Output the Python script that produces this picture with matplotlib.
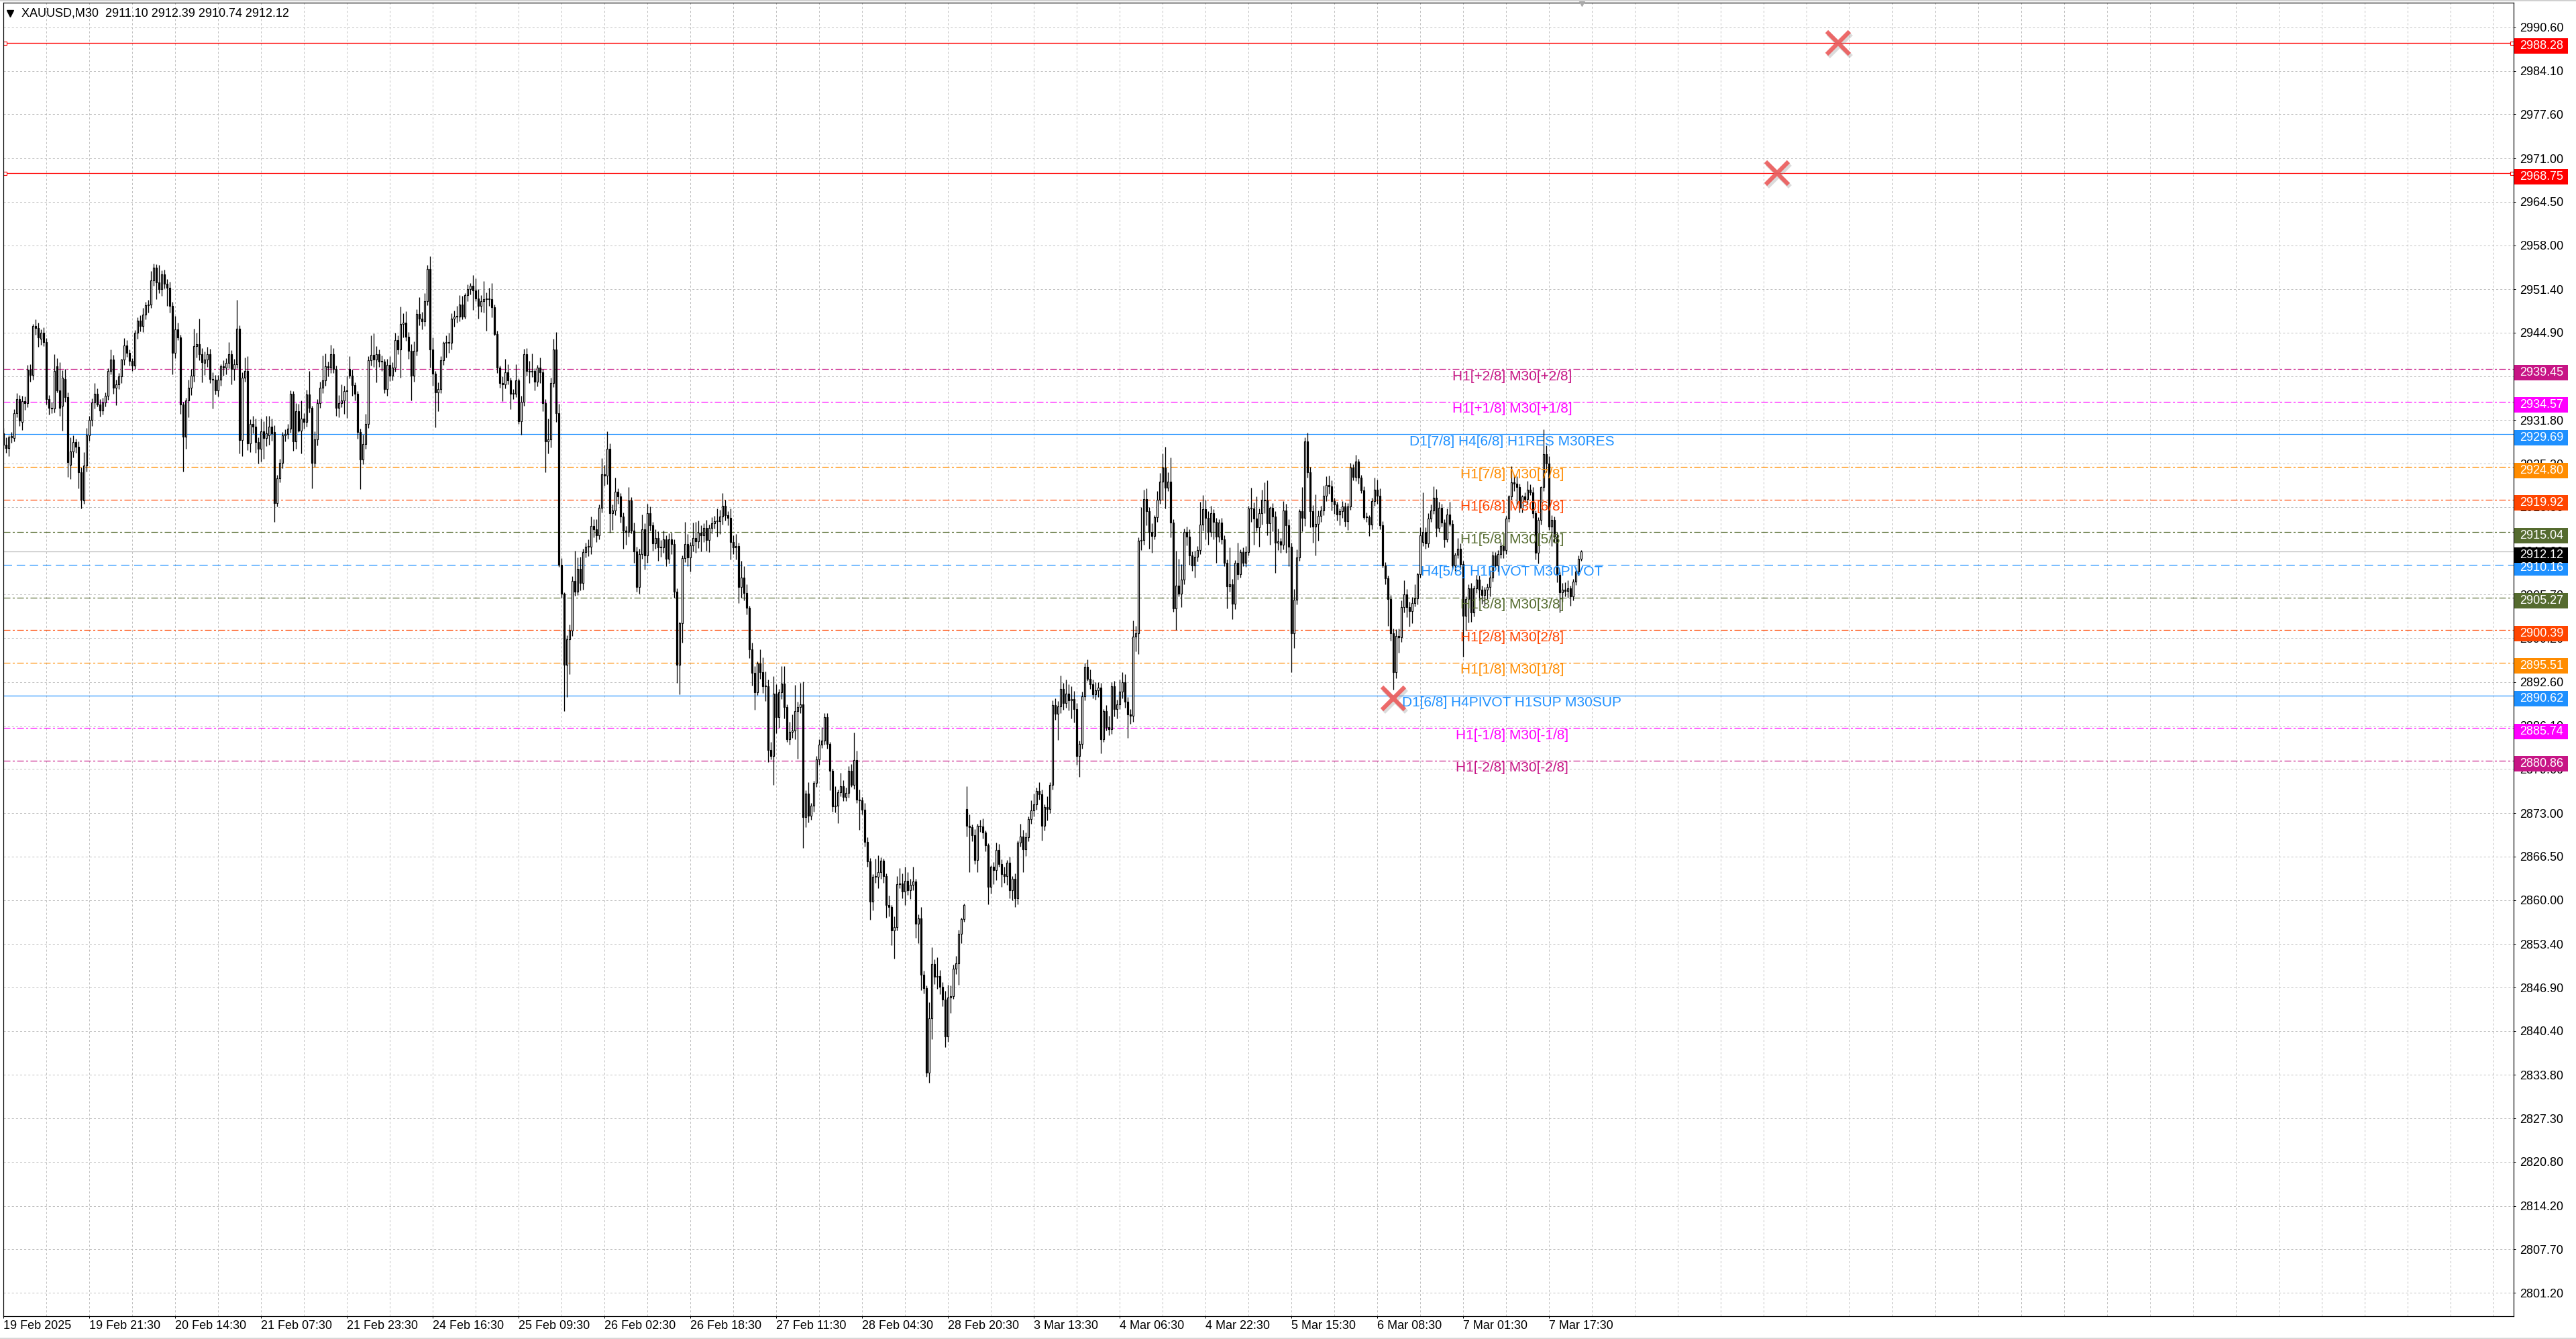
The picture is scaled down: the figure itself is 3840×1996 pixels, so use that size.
import numpy as np
import matplotlib
matplotlib.use('Agg')
import matplotlib.pyplot as plt
from matplotlib.lines import Line2D
from matplotlib.patches import Rectangle
from matplotlib.transforms import blended_transform_factory

# XAUUSD M30 bars (bar 0 = 19 Feb 2025)
opens = [
    2929.8, 2928.1, 2927.6, 2929.2, 2929.1, 2932.8, 2935.0, 2931.5, 2934.7, 2934.4,
    2939.4, 2938.6, 2945.9, 2945.6, 2944.0, 2944.9, 2943.5, 2935.0, 2933.7, 2933.6,
    2939.9, 2936.3, 2934.0, 2938.0, 2935.3, 2925.1, 2927.1, 2928.5, 2927.8, 2924.0,
    2919.8, 2925.0, 2929.5, 2931.8, 2934.5, 2935.8, 2934.2, 2933.3, 2934.5, 2935.5,
    2939.2, 2940.9, 2936.7, 2937.2, 2938.4, 2940.9, 2943.0, 2941.9, 2940.7, 2940.0,
    2944.9, 2946.7, 2945.9, 2947.6, 2949.0, 2949.1, 2952.7, 2954.6, 2952.4, 2951.4,
    2953.6, 2952.2, 2951.6, 2948.9, 2941.9, 2945.4, 2944.2, 2934.2, 2929.3, 2934.8,
    2936.7, 2938.5, 2942.9, 2943.2, 2941.7, 2940.4, 2940.9, 2941.7, 2938.0, 2937.9,
    2936.3, 2937.9, 2939.9, 2939.7, 2940.4, 2941.7, 2939.5, 2940.2, 2945.5, 2928.8,
    2938.2, 2939.2, 2928.3, 2931.2, 2930.8, 2928.5, 2927.5, 2930.1, 2929.1, 2929.5,
    2930.8, 2930.0, 2919.4, 2923.1, 2925.4, 2929.5, 2929.7, 2930.5, 2935.8, 2928.6,
    2933.2, 2930.2, 2932.0, 2931.5, 2935.7, 2933.7, 2925.4, 2928.9, 2934.4, 2936.7,
    2937.8, 2939.9, 2939.7, 2941.7, 2939.5, 2933.7, 2934.4, 2934.8, 2936.2, 2939.5,
    2938.5, 2937.1, 2935.8, 2930.0, 2925.9, 2928.2, 2931.2, 2940.8, 2941.6, 2940.9,
    2941.7, 2940.6, 2940.6, 2936.5, 2940.1, 2938.5, 2939.7, 2943.8, 2942.4, 2946.2,
    2946.4, 2944.3, 2942.2, 2938.5, 2942.2, 2947.7, 2947.0, 2946.6, 2949.6, 2954.4,
    2942.4, 2938.8, 2936.0, 2936.5, 2940.8, 2943.4, 2943.4, 2943.4, 2947.0, 2947.3,
    2947.3, 2949.1, 2947.3, 2950.5, 2951.4, 2951.9, 2951.2, 2950.0, 2948.9, 2949.6,
    2949.9, 2950.0, 2949.9, 2948.7, 2944.7, 2939.7, 2937.4, 2937.2, 2939.0, 2937.8,
    2935.8, 2935.8, 2937.8, 2931.6, 2934.6, 2941.7, 2939.2, 2939.1, 2939.2, 2937.6,
    2939.7, 2939.0, 2934.4, 2928.6, 2928.9, 2937.4, 2942.4, 2932.8, 2910.2, 2905.8,
    2895.2, 2899.0, 2900.3, 2907.7, 2906.1, 2909.6, 2907.4, 2912.1, 2912.9, 2912.9,
    2916.0, 2915.5, 2914.6, 2918.7, 2923.7, 2923.5, 2927.5, 2917.9, 2918.3, 2921.1,
    2920.4, 2917.4, 2915.3, 2915.1, 2919.8, 2915.3, 2912.2, 2906.8, 2911.8, 2915.5,
    2911.6, 2917.9, 2916.1, 2913.4, 2914.2, 2912.8, 2912.8, 2914.0, 2911.1, 2914.0,
    2913.3, 2906.1, 2895.2, 2901.4, 2911.2, 2913.3, 2911.3, 2913.1, 2914.2, 2913.7,
    2915.0, 2914.6, 2915.7, 2913.9, 2915.7, 2916.4, 2916.7, 2916.7, 2917.4, 2919.0,
    2917.6, 2917.2, 2913.6, 2912.8, 2913.0, 2906.8, 2908.3, 2905.9, 2903.7, 2897.5,
    2894.0, 2891.1, 2895.4, 2894.1, 2892.0, 2892.0, 2882.4, 2881.5, 2890.9, 2887.4,
    2891.1, 2892.4, 2888.9, 2884.1, 2885.2, 2885.4, 2888.3, 2888.9, 2889.3, 2872.4,
    2875.9, 2872.6, 2874.1, 2877.5, 2881.0, 2883.2, 2883.9, 2887.4, 2883.3, 2879.3,
    2874.0, 2874.1, 2876.1, 2877.0, 2875.4, 2876.0, 2879.3, 2877.2, 2880.9, 2875.0,
    2874.9, 2873.5, 2868.7, 2865.8, 2859.8, 2863.5, 2863.5, 2864.2, 2865.9, 2863.6,
    2859.3, 2858.9, 2855.4, 2855.9, 2862.4, 2862.5, 2861.3, 2862.9, 2861.5, 2862.3,
    2862.8, 2856.4, 2857.2, 2848.8, 2846.8, 2834.1, 2842.3, 2850.4, 2848.5, 2848.6,
    2847.0, 2845.1, 2839.6, 2845.4, 2845.6, 2849.7, 2850.5, 2854.9, 2857.1, 2873.6,
    2871.1, 2870.9, 2869.7, 2866.0, 2871.1, 2871.0, 2870.1, 2868.2, 2862.0, 2865.0,
    2864.5, 2867.5, 2865.4, 2863.9, 2863.6, 2865.6, 2861.5, 2863.2, 2860.3, 2868.6,
    2869.5, 2867.6, 2869.4, 2872.1, 2873.4, 2874.3, 2876.3, 2875.8, 2871.1, 2873.9,
    2873.6, 2877.2, 2889.2, 2887.9, 2889.0, 2891.6, 2889.5, 2890.9, 2889.9, 2890.1,
    2888.6, 2881.5, 2883.3, 2890.5, 2894.9, 2893.1, 2892.3, 2890.8, 2891.4, 2891.8,
    2884.1, 2888.3, 2885.9, 2885.6, 2892.0, 2888.6, 2889.3, 2891.2, 2892.6, 2889.7,
    2887.8, 2887.6, 2899.4, 2899.9, 2913.8, 2913.9, 2920.0, 2918.2, 2915.1, 2914.5,
    2917.3, 2919.9, 2922.6, 2924.7, 2921.7, 2922.6, 2916.5, 2903.6, 2907.0, 2905.8,
    2907.9, 2915.1, 2914.4, 2911.6, 2910.1, 2911.4, 2912.4, 2916.2, 2918.5, 2917.2,
    2915.1, 2917.9, 2916.6, 2914.4, 2916.5, 2914.0, 2910.5, 2906.9, 2907.2, 2904.3,
    2910.5, 2908.8, 2912.1, 2910.5, 2912.1, 2918.6, 2918.6, 2917.1, 2915.8, 2917.9,
    2919.9, 2919.8, 2916.4, 2918.7, 2917.4, 2913.5, 2913.7, 2913.2, 2918.3, 2916.1,
    2912.9, 2899.9, 2904.9, 2911.3, 2918.2, 2917.2, 2928.6, 2924.0, 2918.2, 2915.9,
    2916.3, 2917.5, 2918.3, 2920.5, 2922.1, 2921.9, 2919.7, 2919.2, 2917.7, 2918.2,
    2918.9, 2916.7, 2918.9, 2924.7, 2923.3, 2925.6, 2923.2, 2921.3, 2917.3, 2917.3,
    2916.2, 2919.7, 2921.4, 2920.5, 2916.1, 2910.1, 2908.1, 2905.0, 2899.9, 2894.1,
    2899.5, 2899.3, 2903.8, 2905.7, 2903.8, 2903.2, 2904.4, 2905.1, 2908.8, 2913.6,
    2915.1, 2913.4, 2917.1, 2918.3, 2920.2, 2915.7, 2918.7, 2916.5, 2914.0, 2917.7,
    2916.3, 2910.1, 2911.7, 2912.6, 2910.3, 2902.5, 2905.0, 2906.6, 2903.0, 2906.6,
    2907.9, 2906.4, 2905.6, 2906.4, 2906.8, 2908.2, 2911.6, 2910.1, 2911.8, 2913.0,
    2912.4, 2917.1, 2920.4, 2922.5, 2922.3, 2921.8, 2918.7, 2920.4, 2920.0, 2921.4,
    2921.0, 2917.9, 2912.0, 2916.9, 2921.8, 2926.7, 2925.3, 2915.9, 2916.9, 2914.4,
    2908.7, 2906.0, 2906.4, 2906.2, 2906.6, 2905.4, 2907.6, 2909.2, 2911.10,
]

highs = [
    2930.6, 2929.2, 2929.5, 2930.0, 2933.5, 2935.9, 2935.6, 2935.5, 2935.4, 2940.1,
    2940.2, 2946.2, 2946.9, 2946.4, 2945.4, 2945.7, 2944.1, 2935.6, 2934.6, 2941.7,
    2941.1, 2940.5, 2939.3, 2939.5, 2936.0, 2929.2, 2929.5, 2929.0, 2928.6, 2924.7,
    2927.0, 2930.6, 2932.4, 2935.1, 2937.4, 2936.6, 2935.0, 2935.2, 2936.0, 2939.6,
    2942.4, 2941.6, 2937.9, 2938.9, 2941.0, 2944.1, 2943.8, 2942.4, 2941.1, 2945.3,
    2947.2, 2947.5, 2948.6, 2949.5, 2949.8, 2954.1, 2955.2, 2955.1, 2955.0, 2954.2,
    2954.3, 2952.9, 2952.5, 2949.5, 2947.4, 2946.4, 2944.6, 2934.6, 2935.2, 2937.9,
    2939.5, 2945.5, 2944.9, 2947.0, 2942.6, 2942.1, 2942.8, 2942.5, 2939.0, 2938.6,
    2938.6, 2940.2, 2940.8, 2941.1, 2943.5, 2942.3, 2941.0, 2949.8, 2946.0, 2939.0,
    2941.2, 2941.4, 2931.9, 2932.4, 2932.0, 2929.2, 2932.0, 2931.6, 2932.4, 2932.4,
    2932.0, 2931.0, 2923.6, 2926.0, 2930.0, 2930.4, 2931.2, 2936.3, 2936.2, 2934.4,
    2934.3, 2934.8, 2932.8, 2936.4, 2939.2, 2934.0, 2930.1, 2935.0, 2937.6, 2941.5,
    2941.8, 2940.6, 2943.1, 2942.6, 2940.0, 2935.6, 2937.2, 2937.0, 2938.5, 2941.4,
    2939.4, 2937.5, 2936.2, 2930.5, 2929.6, 2932.7, 2941.4, 2944.5, 2944.8, 2942.9,
    2942.4, 2941.5, 2941.0, 2941.0, 2941.4, 2940.5, 2944.9, 2944.5, 2948.8, 2947.8,
    2948.1, 2945.0, 2943.2, 2943.6, 2948.4, 2950.2, 2948.0, 2950.8, 2955.0, 2956.3,
    2944.2, 2939.2, 2937.5, 2941.4, 2943.6, 2944.5, 2944.9, 2947.8, 2948.2, 2948.9,
    2950.5, 2950.4, 2950.8, 2952.1, 2952.3, 2953.5, 2953.0, 2951.4, 2950.5, 2952.6,
    2950.9, 2951.6, 2952.3, 2949.1, 2945.2, 2940.0, 2938.4, 2941.0, 2940.2, 2938.2,
    2936.5, 2940.2, 2938.1, 2935.5, 2942.5, 2942.6, 2940.7, 2941.8, 2939.6, 2940.1,
    2941.2, 2939.5, 2935.0, 2932.0, 2938.2, 2944.0, 2945.0, 2934.3, 2911.2, 2906.0,
    2899.6, 2901.2, 2908.5, 2912.3, 2911.3, 2911.4, 2912.6, 2913.5, 2914.0, 2917.4,
    2917.0, 2917.0, 2919.2, 2926.1, 2925.1, 2930.1, 2928.3, 2919.2, 2923.2, 2921.6,
    2920.9, 2918.0, 2916.0, 2921.8, 2920.3, 2916.5, 2912.9, 2912.6, 2917.7, 2916.4,
    2919.3, 2918.9, 2916.6, 2915.5, 2915.2, 2913.9, 2915.3, 2914.6, 2914.9, 2915.0,
    2914.0, 2906.6, 2901.6, 2911.6, 2916.6, 2914.8, 2913.6, 2916.5, 2916.6, 2916.8,
    2916.1, 2916.4, 2916.9, 2916.2, 2917.3, 2917.5, 2918.6, 2918.4, 2920.9, 2919.9,
    2918.2, 2918.6, 2914.6, 2914.8, 2913.5, 2910.8, 2910.0, 2907.2, 2904.0, 2898.5,
    2895.0, 2895.7, 2897.5, 2896.3, 2894.2, 2893.0, 2883.6, 2893.5, 2892.3, 2891.6,
    2895.0, 2895.0, 2889.3, 2886.7, 2887.8, 2892.2, 2889.7, 2892.5, 2892.7, 2876.4,
    2877.6, 2874.5, 2877.8, 2881.5, 2884.1, 2885.9, 2888.0, 2888.0, 2883.6, 2879.6,
    2877.0, 2876.5, 2879.0, 2877.9, 2876.8, 2880.0, 2880.3, 2885.1, 2882.3, 2876.5,
    2875.4, 2874.5, 2869.4, 2866.3, 2863.9, 2866.2, 2866.7, 2866.4, 2866.2, 2864.0,
    2860.7, 2859.3, 2857.5, 2863.6, 2864.8, 2864.0, 2865.0, 2864.2, 2863.2, 2865.0,
    2863.2, 2857.8, 2858.9, 2849.4, 2847.2, 2844.7, 2852.9, 2851.1, 2851.4, 2849.5,
    2847.7, 2846.4, 2847.3, 2847.2, 2850.3, 2851.6, 2855.5, 2857.3, 2859.5, 2877.0,
    2872.8, 2871.3, 2870.6, 2871.4, 2872.0, 2872.2, 2870.4, 2868.5, 2865.2, 2865.7,
    2868.6, 2868.4, 2866.1, 2865.0, 2866.0, 2866.5, 2863.6, 2864.0, 2868.9, 2871.4,
    2870.5, 2870.1, 2872.5, 2874.9, 2875.9, 2876.8, 2877.6, 2876.5, 2874.3, 2875.5,
    2877.6, 2889.9, 2890.2, 2889.8, 2893.6, 2892.5, 2893.0, 2892.3, 2892.0, 2891.3,
    2889.5, 2883.9, 2891.2, 2895.5, 2896.0, 2894.5, 2893.0, 2892.6, 2892.6, 2892.5,
    2888.6, 2889.2, 2887.6, 2892.6, 2892.8, 2890.0, 2893.0, 2894.1, 2893.8, 2890.4,
    2888.6, 2901.8, 2901.0, 2914.3, 2918.8, 2921.4, 2921.6, 2918.8, 2916.4, 2917.6,
    2921.2, 2923.9, 2926.8, 2927.8, 2924.0, 2926.2, 2917.0, 2912.3, 2911.1, 2910.3,
    2915.6, 2915.9, 2915.5, 2912.2, 2912.3, 2913.0, 2919.6, 2920.6, 2919.9, 2918.2,
    2919.0, 2918.5, 2917.2, 2917.0, 2917.2, 2914.6, 2911.0, 2912.8, 2908.0, 2910.9,
    2913.5, 2912.5, 2912.8, 2913.0, 2919.0, 2921.7, 2919.5, 2920.4, 2918.6, 2921.4,
    2922.5, 2922.8, 2918.9, 2919.4, 2918.2, 2915.6, 2914.2, 2919.7, 2919.3, 2917.0,
    2913.5, 2906.5, 2912.5, 2918.5, 2921.8, 2929.2, 2929.9, 2924.8, 2919.1, 2920.7,
    2918.3, 2919.0, 2922.0, 2923.4, 2923.5, 2922.8, 2920.2, 2919.6, 2918.6, 2919.7,
    2919.5, 2919.4, 2925.4, 2925.2, 2926.6, 2926.0, 2923.6, 2921.9, 2918.0, 2917.6,
    2920.2, 2923.2, 2922.9, 2921.6, 2916.7, 2910.6, 2908.6, 2905.6, 2900.6, 2900.5,
    2900.6, 2904.8, 2907.8, 2906.5, 2904.6, 2905.3, 2907.2, 2909.0, 2915.8, 2921.0,
    2915.8, 2917.9, 2919.2, 2921.9, 2921.5, 2919.6, 2919.3, 2917.0, 2918.6, 2919.6,
    2916.9, 2912.0, 2914.2, 2913.4, 2910.8, 2905.4, 2907.2, 2907.4, 2907.0, 2908.7,
    2908.6, 2907.0, 2906.8, 2907.3, 2909.4, 2912.2, 2912.1, 2912.4, 2913.6, 2913.4,
    2917.5, 2920.6, 2924.9, 2923.6, 2923.4, 2922.3, 2920.6, 2921.0, 2922.7, 2922.2,
    2921.8, 2918.3, 2917.3, 2921.9, 2930.4, 2928.0, 2926.4, 2917.6, 2917.4, 2915.0,
    2909.2, 2907.4, 2907.5, 2907.8, 2907.0, 2908.0, 2909.8, 2911.6, 2912.39,
]

lows = [
    2927.5, 2926.9, 2926.4, 2928.4, 2928.6, 2932.2, 2930.9, 2930.3, 2933.4, 2933.8,
    2937.6, 2937.9, 2944.6, 2942.8, 2943.1, 2942.9, 2934.2, 2932.6, 2932.9, 2933.0,
    2936.0, 2932.4, 2930.2, 2934.6, 2923.3, 2923.0, 2926.2, 2926.9, 2921.6, 2918.6,
    2919.3, 2924.1, 2928.7, 2930.9, 2933.6, 2933.9, 2932.3, 2932.6, 2933.9, 2934.9,
    2938.7, 2935.8, 2934.1, 2936.5, 2937.4, 2940.1, 2941.3, 2940.0, 2939.2, 2939.5,
    2944.0, 2945.1, 2945.0, 2946.9, 2947.9, 2948.6, 2951.9, 2949.9, 2950.8, 2950.4,
    2951.5, 2948.9, 2947.9, 2938.7, 2941.1, 2943.8, 2932.7, 2924.1, 2927.5, 2932.2,
    2935.6, 2937.6, 2941.2, 2940.8, 2937.5, 2938.6, 2939.8, 2937.4, 2933.6, 2935.7,
    2935.4, 2937.0, 2938.5, 2938.7, 2939.6, 2937.2, 2937.8, 2939.6, 2926.8, 2926.4,
    2937.6, 2927.3, 2927.0, 2929.8, 2926.9, 2925.3, 2925.6, 2926.0, 2927.9, 2928.1,
    2928.7, 2916.6, 2918.9, 2922.5, 2924.6, 2928.6, 2929.0, 2929.9, 2927.2, 2927.5,
    2930.0, 2926.8, 2930.5, 2930.8, 2933.0, 2921.6, 2924.8, 2928.0, 2933.7, 2935.9,
    2937.0, 2938.4, 2938.9, 2938.9, 2932.4, 2932.2, 2933.8, 2932.7, 2932.1, 2938.1,
    2935.5, 2934.8, 2929.0, 2921.5, 2925.2, 2927.5, 2930.6, 2940.0, 2939.8, 2937.5,
    2939.8, 2939.2, 2935.9, 2935.5, 2937.7, 2937.8, 2939.1, 2941.7, 2938.2, 2944.2,
    2943.7, 2941.0, 2934.8, 2937.6, 2941.5, 2946.0, 2945.4, 2945.9, 2949.0, 2939.7,
    2937.0, 2930.7, 2933.2, 2935.9, 2940.1, 2941.2, 2941.9, 2942.4, 2945.8, 2946.4,
    2946.6, 2946.9, 2947.0, 2949.6, 2950.6, 2948.3, 2949.6, 2947.0, 2948.0, 2947.9,
    2945.2, 2948.9, 2947.2, 2944.5, 2938.9, 2936.7, 2934.7, 2936.6, 2937.2, 2933.5,
    2935.0, 2935.3, 2931.2, 2929.6, 2934.0, 2938.5, 2937.4, 2938.3, 2936.3, 2936.9,
    2937.4, 2933.2, 2924.0, 2926.8, 2927.7, 2936.8, 2931.5, 2909.9, 2905.2, 2888.3,
    2890.4, 2893.8, 2899.5, 2905.5, 2905.6, 2906.3, 2906.4, 2911.3, 2911.5, 2911.8,
    2914.3, 2913.6, 2914.0, 2918.0, 2922.0, 2922.2, 2915.0, 2915.4, 2917.6, 2919.3,
    2916.5, 2912.6, 2913.2, 2914.4, 2914.9, 2910.5, 2906.1, 2905.8, 2911.1, 2909.5,
    2910.5, 2915.3, 2912.3, 2912.6, 2910.8, 2911.4, 2912.0, 2910.0, 2910.4, 2911.8,
    2905.2, 2892.5, 2890.8, 2898.5, 2910.6, 2910.0, 2909.2, 2912.2, 2912.0, 2912.7,
    2912.2, 2913.6, 2912.3, 2912.1, 2914.9, 2915.6, 2914.4, 2914.8, 2916.2, 2916.8,
    2916.1, 2911.0, 2911.8, 2911.0, 2904.4, 2905.2, 2904.8, 2902.7, 2896.2, 2892.1,
    2888.5, 2890.7, 2893.1, 2891.0, 2889.8, 2880.6, 2881.0, 2877.2, 2885.0, 2885.8,
    2890.1, 2887.2, 2883.6, 2883.2, 2884.3, 2884.1, 2881.1, 2888.0, 2867.8, 2870.9,
    2871.6, 2872.0, 2873.2, 2876.9, 2880.2, 2882.7, 2883.2, 2882.6, 2876.4, 2873.2,
    2873.1, 2871.5, 2875.5, 2874.8, 2874.8, 2875.3, 2876.9, 2876.6, 2874.5, 2870.5,
    2872.8, 2868.0, 2865.0, 2857.0, 2858.4, 2862.6, 2861.8, 2863.2, 2862.6, 2857.3,
    2857.5, 2853.2, 2851.2, 2855.4, 2861.8, 2860.3, 2859.3, 2860.8, 2860.2, 2861.5,
    2854.3, 2853.5, 2846.5, 2846.0, 2833.5, 2832.6, 2839.2, 2847.4, 2846.7, 2845.9,
    2844.1, 2838.0, 2838.8, 2843.1, 2845.2, 2848.9, 2847.3, 2853.5, 2856.7, 2869.5,
    2864.2, 2868.8, 2865.4, 2864.2, 2870.2, 2869.2, 2867.3, 2859.4, 2861.0, 2862.4,
    2863.0, 2865.0, 2862.0, 2862.6, 2862.3, 2860.3, 2860.0, 2858.9, 2859.4, 2868.0,
    2864.2, 2866.6, 2868.8, 2871.4, 2872.5, 2873.5, 2875.0, 2868.9, 2870.4, 2871.9,
    2873.0, 2876.5, 2887.0, 2884.0, 2888.0, 2888.5, 2888.8, 2888.4, 2887.2, 2886.6,
    2880.2, 2878.4, 2882.6, 2889.9, 2892.8, 2891.6, 2890.2, 2890.0, 2890.4, 2881.9,
    2883.6, 2885.4, 2884.7, 2884.9, 2887.5, 2887.2, 2888.6, 2890.2, 2888.8, 2884.3,
    2886.4, 2886.7, 2897.2, 2896.8, 2912.4, 2913.2, 2916.1, 2912.6, 2912.0, 2914.0,
    2916.6, 2919.3, 2919.9, 2918.6, 2921.2, 2914.3, 2903.1, 2900.4, 2905.4, 2903.8,
    2907.2, 2913.1, 2910.2, 2909.3, 2908.3, 2910.7, 2911.8, 2915.3, 2914.0, 2913.2,
    2914.4, 2914.0, 2910.5, 2913.6, 2913.3, 2910.0, 2903.6, 2906.1, 2902.0, 2903.5,
    2907.9, 2908.2, 2910.0, 2909.9, 2911.6, 2916.6, 2913.2, 2915.2, 2912.9, 2916.2,
    2917.9, 2914.6, 2913.2, 2915.2, 2909.0, 2912.4, 2912.0, 2912.5, 2912.0, 2910.0,
    2894.1, 2897.7, 2904.2, 2910.8, 2915.2, 2916.0, 2923.2, 2915.8, 2913.5, 2911.6,
    2913.8, 2916.6, 2917.6, 2919.7, 2920.8, 2918.3, 2917.8, 2916.8, 2916.1, 2917.2,
    2915.9, 2915.4, 2918.4, 2922.8, 2922.7, 2922.3, 2920.9, 2917.0, 2916.6, 2914.5,
    2915.5, 2919.0, 2919.3, 2915.5, 2909.8, 2907.2, 2901.0, 2898.8, 2891.5, 2893.2,
    2897.0, 2898.6, 2903.0, 2902.3, 2900.9, 2901.4, 2903.9, 2904.2, 2908.2, 2913.0,
    2912.6, 2912.8, 2916.6, 2917.8, 2914.4, 2915.1, 2915.9, 2912.8, 2913.6, 2916.0,
    2909.5, 2909.3, 2911.2, 2909.6, 2896.4, 2900.3, 2901.5, 2901.6, 2902.4, 2905.9,
    2904.8, 2904.3, 2904.0, 2905.0, 2905.4, 2907.6, 2909.6, 2909.2, 2911.2, 2911.2,
    2911.8, 2916.6, 2919.9, 2921.2, 2919.1, 2918.0, 2918.0, 2919.5, 2919.2, 2920.6,
    2917.2, 2911.0, 2910.4, 2916.2, 2921.2, 2924.0, 2915.4, 2913.0, 2913.6, 2907.5,
    2903.0, 2904.6, 2905.4, 2905.2, 2904.0, 2904.8, 2907.1, 2908.6, 2910.74,
]

closes = [
    2928.1, 2927.6, 2929.2, 2929.4, 2932.8, 2935.0, 2931.7, 2934.7, 2934.4, 2939.4,
    2938.6, 2945.9, 2945.6, 2944.2, 2944.9, 2943.5, 2935.0, 2933.7, 2933.6, 2939.2,
    2936.3, 2933.7, 2938.2, 2935.3, 2925.5, 2927.1, 2928.5, 2927.8, 2924.0, 2919.9,
    2925.0, 2929.5, 2931.8, 2934.5, 2935.8, 2934.2, 2933.3, 2934.5, 2935.5, 2939.2,
    2940.9, 2936.7, 2937.2, 2938.4, 2940.9, 2943.0, 2941.9, 2940.7, 2940.0, 2944.9,
    2946.7, 2945.9, 2947.6, 2949.0, 2949.1, 2952.7, 2954.6, 2952.4, 2951.4, 2953.6,
    2952.2, 2951.6, 2948.9, 2941.9, 2945.4, 2944.2, 2934.2, 2929.3, 2934.8, 2936.7,
    2938.5, 2942.9, 2943.2, 2941.7, 2940.5, 2940.9, 2941.7, 2938.0, 2937.9, 2936.3,
    2937.9, 2939.9, 2939.7, 2940.4, 2941.7, 2939.5, 2940.2, 2945.5, 2928.8, 2938.2,
    2939.2, 2928.3, 2931.2, 2930.8, 2928.5, 2927.5, 2930.1, 2929.1, 2929.8, 2930.8,
    2929.8, 2919.4, 2923.1, 2925.4, 2929.5, 2929.7, 2930.5, 2935.8, 2928.6, 2933.2,
    2930.2, 2932.0, 2931.5, 2935.7, 2933.7, 2925.4, 2928.9, 2934.4, 2936.7, 2937.8,
    2939.9, 2939.7, 2941.7, 2939.5, 2933.7, 2934.4, 2934.8, 2936.2, 2936.2, 2938.5,
    2937.1, 2935.8, 2930.0, 2925.9, 2928.2, 2931.2, 2940.8, 2941.6, 2940.9, 2941.7,
    2940.6, 2940.6, 2936.5, 2940.1, 2938.5, 2939.7, 2943.8, 2942.4, 2946.2, 2946.4,
    2944.3, 2942.2, 2938.5, 2942.2, 2947.7, 2947.0, 2946.6, 2949.6, 2954.4, 2942.4,
    2938.8, 2936.0, 2936.5, 2940.8, 2943.4, 2943.4, 2943.4, 2947.0, 2947.3, 2947.3,
    2949.1, 2947.3, 2950.5, 2951.4, 2951.9, 2951.2, 2950.0, 2948.9, 2949.6, 2949.9,
    2950.0, 2949.9, 2948.7, 2944.7, 2939.7, 2937.4, 2937.2, 2939.0, 2937.8, 2935.8,
    2935.8, 2937.8, 2931.6, 2934.6, 2941.7, 2939.2, 2939.1, 2939.2, 2937.6, 2939.7,
    2939.0, 2934.4, 2928.6, 2928.9, 2937.4, 2942.4, 2932.8, 2910.2, 2905.8, 2895.2,
    2899.0, 2900.3, 2907.7, 2906.1, 2909.6, 2907.4, 2912.1, 2912.9, 2912.9, 2916.0,
    2915.5, 2914.6, 2918.7, 2923.7, 2923.5, 2927.5, 2917.9, 2918.3, 2921.1, 2920.4,
    2917.4, 2915.3, 2915.1, 2919.8, 2915.3, 2912.2, 2906.8, 2911.8, 2915.5, 2911.6,
    2917.9, 2916.1, 2913.4, 2914.2, 2912.8, 2912.8, 2914.0, 2911.1, 2914.0, 2913.3,
    2906.1, 2895.2, 2901.4, 2911.2, 2913.3, 2911.3, 2913.1, 2914.2, 2913.7, 2915.0,
    2914.6, 2915.7, 2913.9, 2915.7, 2916.4, 2916.7, 2916.7, 2917.4, 2919.0, 2917.6,
    2917.2, 2913.6, 2912.8, 2913.0, 2906.8, 2908.3, 2905.9, 2903.7, 2897.5, 2894.0,
    2891.1, 2895.4, 2894.1, 2892.0, 2892.0, 2882.4, 2881.5, 2890.9, 2887.4, 2891.1,
    2892.4, 2888.9, 2884.1, 2885.2, 2885.4, 2888.3, 2888.9, 2889.3, 2872.4, 2875.9,
    2872.6, 2874.1, 2877.5, 2881.0, 2883.2, 2883.9, 2887.4, 2883.3, 2879.3, 2874.0,
    2874.1, 2876.1, 2877.0, 2875.4, 2876.0, 2879.3, 2877.2, 2880.9, 2875.0, 2874.9,
    2873.5, 2868.7, 2865.8, 2859.8, 2863.5, 2863.5, 2864.2, 2865.9, 2863.6, 2859.3,
    2858.9, 2855.4, 2855.9, 2862.4, 2862.5, 2861.3, 2862.9, 2861.5, 2862.3, 2862.8,
    2856.4, 2857.2, 2848.8, 2846.8, 2834.1, 2842.3, 2850.4, 2848.5, 2848.6, 2847.0,
    2845.1, 2839.6, 2845.4, 2845.6, 2849.7, 2850.5, 2854.9, 2857.1, 2859.3, 2871.1,
    2870.9, 2869.7, 2866.0, 2871.1, 2871.0, 2870.1, 2868.2, 2862.0, 2865.0, 2864.5,
    2867.5, 2865.4, 2863.9, 2863.6, 2865.6, 2861.5, 2863.2, 2860.3, 2868.6, 2869.5,
    2867.6, 2869.4, 2872.1, 2873.4, 2874.3, 2876.3, 2875.8, 2871.1, 2873.9, 2873.6,
    2877.2, 2889.2, 2887.9, 2889.0, 2891.6, 2889.5, 2890.9, 2889.9, 2890.1, 2888.6,
    2881.5, 2883.3, 2890.5, 2894.9, 2893.1, 2892.3, 2890.8, 2891.4, 2891.8, 2884.1,
    2888.3, 2885.9, 2885.6, 2892.0, 2888.6, 2889.3, 2891.2, 2892.6, 2889.7, 2887.8,
    2887.6, 2899.4, 2899.9, 2913.8, 2913.9, 2920.0, 2918.2, 2915.1, 2914.5, 2917.3,
    2919.9, 2922.6, 2924.7, 2921.7, 2922.6, 2916.5, 2903.6, 2907.0, 2905.8, 2907.9,
    2915.1, 2914.4, 2911.6, 2910.1, 2911.4, 2912.4, 2916.2, 2918.5, 2917.2, 2915.1,
    2917.9, 2916.6, 2914.4, 2916.5, 2914.0, 2910.5, 2906.9, 2907.2, 2904.3, 2910.5,
    2908.8, 2912.1, 2910.5, 2912.1, 2918.6, 2918.6, 2917.1, 2915.8, 2917.9, 2919.9,
    2919.8, 2916.4, 2918.7, 2917.4, 2913.5, 2913.7, 2913.2, 2918.3, 2916.1, 2912.9,
    2899.9, 2904.9, 2911.3, 2918.2, 2917.2, 2928.6, 2924.0, 2918.2, 2915.9, 2916.3,
    2917.5, 2918.3, 2920.5, 2922.1, 2921.9, 2919.7, 2919.2, 2917.7, 2918.2, 2918.9,
    2916.7, 2918.9, 2924.7, 2923.3, 2925.6, 2923.2, 2921.3, 2917.3, 2917.3, 2916.2,
    2919.7, 2921.4, 2920.5, 2916.1, 2910.1, 2908.1, 2905.0, 2899.9, 2894.1, 2899.5,
    2899.3, 2903.8, 2905.7, 2903.8, 2903.2, 2904.4, 2905.1, 2908.8, 2914.6, 2915.1,
    2913.4, 2917.1, 2918.3, 2920.2, 2915.7, 2918.7, 2916.5, 2914.0, 2917.7, 2916.3,
    2910.1, 2911.7, 2912.6, 2910.3, 2902.5, 2905.0, 2906.6, 2903.0, 2906.6, 2907.9,
    2906.4, 2905.6, 2906.4, 2906.8, 2908.2, 2911.6, 2910.1, 2911.8, 2913.0, 2912.4,
    2917.1, 2920.4, 2922.5, 2922.3, 2921.8, 2918.7, 2920.4, 2920.0, 2921.4, 2921.0,
    2917.9, 2912.0, 2916.9, 2921.8, 2926.7, 2925.3, 2915.9, 2916.9, 2914.4, 2908.7,
    2906.0, 2906.4, 2906.2, 2906.6, 2905.4, 2907.6, 2909.2, 2911.1, 2912.12,
]

# price axis ticks and time axis labels (one label every 32 bars)
y_ticks = [2990.60, 2984.10, 2977.60, 2971.00, 2964.50, 2958.00, 2951.40, 2944.90,
           2938.40, 2931.80, 2925.30, 2918.80, 2912.20, 2905.70, 2899.20, 2892.60,
           2886.10, 2879.60, 2873.00, 2866.50, 2860.00, 2853.40, 2846.90, 2840.40,
           2833.80, 2827.30, 2820.80, 2814.20, 2807.70, 2801.20]
time_labels = ['19 Feb 2025', '19 Feb 21:30', '20 Feb 14:30', '21 Feb 07:30', '21 Feb 23:30',
               '24 Feb 16:30', '25 Feb 09:30', '26 Feb 02:30', '26 Feb 18:30', '27 Feb 11:30',
               '28 Feb 04:30', '28 Feb 20:30', '3 Mar 13:30', '4 Mar 06:30', '4 Mar 22:30',
               '5 Mar 15:30', '6 Mar 08:30', '7 Mar 01:30', '7 Mar 17:30']

# Murrey-math style levels drawn by the indicator
level_prices = [2939.45, 2934.57, 2929.69, 2924.80, 2919.92, 2915.04, 2910.16,
                2905.27, 2900.39, 2895.51, 2890.62, 2885.74, 2880.86]
level_texts = ['H1[+2/8] M30[+2/8]', 'H1[+1/8] M30[+1/8]', 'D1[7/8] H4[6/8] H1RES M30RES',
               'H1[7/8] M30[7/8]', 'H1[6/8] M30[6/8]', 'H1[5/8] M30[5/8]',
               'H4[5/8] H1PIVOT M30PIVOT', 'H1[3/8] M30[3/8]', 'H1[2/8] M30[2/8]',
               'H1[1/8] M30[1/8]', 'D1[6/8] H4PIVOT H1SUP M30SUP', 'H1[-1/8] M30[-1/8]',
               'H1[-2/8] M30[-2/8]']
level_colors = ['#C71585', '#FF00FF', '#1E90FF', '#FF8C00', '#FF4500', '#556B2F', '#1E90FF',
                '#556B2F', '#FF4500', '#FF8C00', '#1E90FF', '#FF00FF', '#C71585']
level_kinds = ['dashdot', 'dashdot', 'solid', 'dashdot', 'dashdot', 'dashdot', 'dashed',
               'dashdot', 'dashdot', 'dashdot', 'solid', 'dashdot', 'dashdot']

# red target lines and the cross arrows
target_prices = [2988.28, 2968.75]
cross_bars = [683.75, 661.0, 518.0]
cross_prices = [2988.28, 2968.75, 2890.2]
bid_price = 2912.12

W, H, DPI = 3840, 1996, 100
PX = 72.0 / DPI   # one pixel in points


def main():
    plt.rcParams['font.family'] = ['Liberation Sans', 'DejaVu Sans']
    plt.rcParams['lines.scale_dashes'] = False

    fig = plt.figure(figsize=(W / DPI, H / DPI), dpi=DPI, facecolor='white')
    left, right, top, bottom = 4.6, 3747.0, 4.0, 1962.0
    ax = fig.add_axes([left / W, 1 - bottom / H, (right - left) / W, (bottom - top) / H])
    ax.set_facecolor('white')

    x_min, x_max = -0.1, 935.5
    y_min, y_max = 2797.7, 2994.3
    ax.set_xlim(x_min, x_max)
    ax.set_ylim(y_min, y_max)

    o = np.array(opens)
    c = np.array(closes)
    h = np.maximum(np.array(highs), np.maximum(o, c))
    l = np.minimum(np.array(lows), np.minimum(o, c))
    idx = np.arange(len(c))

    # grid
    grid_dash = (0, (2.2, 2.2))
    ax.hlines(y_ticks, x_min, x_max, colors='#c0c0c0', linewidth=PX, linestyles=[grid_dash], zorder=0)
    ax.vlines(np.arange(0, 936, 16), y_min, y_max, colors='#c0c0c0', linewidth=PX,
              linestyles=[grid_dash], zorder=0)

    # level lines and their captions
    dashdot = (0, (7.2, 2.5, 2.2, 2.5))
    dashed = (0, (9.0, 5.0))
    styles = {'solid': '-', 'dashdot': dashdot, 'dashed': dashed}
    for p, txt, col, kind in zip(level_prices, level_texts, level_colors, level_kinds):
        ax.plot([x_min, x_max], [p, p], color=col, linewidth=1.2 * PX, linestyle=styles[kind], zorder=1)
        ax.text(562.25, p - 1.1, txt, color=col, fontsize=15, ha='center', va='center', zorder=6)

    # bid line
    ax.plot([x_min, x_max], [bid_price, bid_price], color='#c0c0c0', linewidth=1.3 * PX, zorder=1)

    # red target lines with the little squares at both ends
    for p in target_prices:
        ax.plot([x_min, x_max], [p, p], color='#ff0000', linewidth=1.3 * PX, zorder=2)
        ax.plot([0.5, 934.7], [p, p], linestyle='none', marker='s', markersize=3.6,
                markerfacecolor='white', markeredgecolor='#ff0000', markeredgewidth=0.8, zorder=2)

    # candles
    ax.vlines(idx, l, h, colors='black', linewidth=1.3 * PX, zorder=3)
    up = c >= o
    base = np.minimum(o, c)
    height = np.maximum(np.abs(c - o), 0.1)
    ax.bar(idx[up], height[up], bottom=base[up], width=0.5, color='white',
           edgecolor='black', linewidth=1.2 * PX, zorder=4)
    ax.bar(idx[~up], height[~up], bottom=base[~up], width=0.5, color='black',
           edgecolor='black', linewidth=1.2 * PX, zorder=4)

    # cross arrows with a soft shadow
    for bx, by in zip(cross_bars, cross_prices):
        ax.plot(bx + 0.6, by - 0.3, marker='x', markersize=24, markeredgewidth=5,
                color='#9a9a9a', alpha=0.35, zorder=7)
        ax.plot(bx, by, marker='x', markersize=24, markeredgewidth=4.5,
                color='#ec5a5a', alpha=0.9, zorder=8)

    # axes, ticks
    for sp in ax.spines.values():
        sp.set_color('black')
        sp.set_linewidth(1.2 * PX)
    ax.yaxis.tick_right()
    ax.set_yticks(y_ticks)
    ax.set_yticklabels([f'{v:.2f}' for v in y_ticks])
    ax.tick_params(axis='y', direction='out', length=3 * PX, width=PX, pad=4.3,
                   labelsize=13, colors='black')
    ax.set_xticks(np.arange(len(time_labels)) * 32)
    ax.set_xticklabels(time_labels)
    ax.tick_params(axis='x', direction='out', length=3 * PX, width=PX, pad=2.5,
                   labelsize=13, colors='black')
    for lab in ax.get_xticklabels():
        lab.set_ha('left')

    # price boxes on the right axis (centred a little below their line)
    trans = blended_transform_factory(ax.transAxes, ax.transData)
    ax_w = right - left
    bx0 = (3748 - left) / ax_w
    bw = 80 / ax_w
    tx = (3756 - left) / ax_w
    box_prices = target_prices + level_prices + [bid_price]
    box_colors = ['#ff0000', '#ff0000'] + level_colors + ['#000000']
    for p, col in zip(box_prices, box_colors):
        yc = p - 0.5
        ax.add_patch(Rectangle((bx0, yc - 1.15), bw, 2.3, transform=trans, facecolor=col,
                               edgecolor='none', clip_on=False, zorder=9))
        ax.text(tx, yc, f'{p:.2f}', transform=trans, color='white', fontsize=13,
                ha='left', va='center', clip_on=False, zorder=10)

    # header in the upper left corner
    fig.add_artist(Line2D([14.5 / W], [1 - 20 / H], marker='v', markersize=7, color='black',
                          transform=fig.transFigure))
    fig.text(32 / W, 1 - 20 / H, 'XAUUSD,M30  2911.10 2912.39 2910.74 2912.12',
             fontsize=13, ha='left', va='center', color='black')

    # chart shift marker on the top border
    fig.add_artist(Line2D([2358 / W], [1 - 3 / H], marker='v', markersize=8, color='#a9a9a9',
                          transform=fig.transFigure))

    # thin grey window edges
    fig.add_artist(Line2D([0, 1], [1 - 0.5 / H, 1 - 0.5 / H], color='#d0d0d0', linewidth=2 * PX,
                          transform=fig.transFigure))
    fig.add_artist(Line2D([0, 1], [1.5 / H, 1.5 / H], color='#d8d8d8', linewidth=3 * PX,
                          transform=fig.transFigure))

    fig.savefig('out.png', dpi=DPI, facecolor='white')
    plt.close(fig)


if __name__ == '__main__':
    main()
